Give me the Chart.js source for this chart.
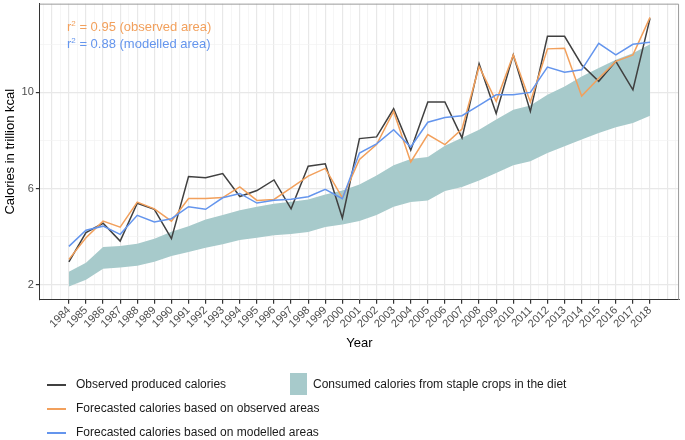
<!DOCTYPE html>
<html>
<head>
<meta charset="utf-8">
<script src="https://cdn.jsdelivr.net/npm/chart.js@4"></script>
<style>
  body { margin: 0; background: #fff; font-family: "Liberation Sans", Arial, sans-serif; }
  #wrap { position: relative; width: 685px; height: 440px; }
  .note { position: absolute; left: 67px; font-size: 13px; white-space: nowrap; line-height: 16px; }
  .note sup { font-size: 8px; vertical-align: 5px; line-height: 0; }
  .leg { position: absolute; font-size: 12px; color: #1a1a1a; white-space: nowrap; }
  .leg .ln { position: absolute; left: -29px; top: 7px; width: 19px; height: 1.5px; }
  .box { position: absolute; left: 290px; top: 373px; width: 17px; height: 22px; background: rgb(167,202,203); }
</style>
</head>
<body>
<div id="wrap">
  <canvas id="chart" width="685" height="440"></canvas>
  <div class="note" style="top:19px; color:#F2A05C;">r<sup>2</sup> = 0.95 (observed area)</div>
  <div class="note" style="top:36px; color:#6495ED;">r<sup>2</sup> = 0.88 (modelled area)</div>
  <div class="leg" style="left:76px; top:377px;"><span class="ln" style="background:#404040"></span>Observed produced calories</div>
  <div class="leg" style="left:76px; top:401px;"><span class="ln" style="background:#F2A05C"></span>Forecasted calories based on observed areas</div>
  <div class="leg" style="left:76px; top:425px;"><span class="ln" style="background:#6495ED"></span>Forecasted calories based on modelled areas</div>
  <div class="box"></div>
  <div class="leg" style="left:313px; top:377px;">Consumed calories from staple crops in the diet</div>
</div>
<script>
const years = [1984, 1985, 1986, 1987, 1988, 1989, 1990, 1991, 1992, 1993, 1994, 1995,
    1996, 1997, 1998, 1999, 2000, 2001, 2002, 2003, 2004, 2005, 2006, 2007, 2008, 2009,
    2010, 2011, 2012, 2013, 2014, 2015, 2016, 2017, 2018];

const observed = [2.96, 4.17, 4.56, 3.82, 5.39, 5.14, 3.92, 6.50, 6.45, 6.63, 5.67, 5.92,
    6.36, 5.16, 6.93, 7.03, 4.78, 8.08, 8.15, 9.32, 7.60, 9.60, 9.60, 8.11, 11.19, 9.12,
    11.56, 9.21, 12.33, 12.33, 11.15, 10.46, 11.29, 10.11, 13.08];

const forecastObserved = [3.06, 3.96, 4.65, 4.40, 5.44, 5.16, 4.65, 5.59, 5.59, 5.63, 6.07, 5.51,
    5.55, 6.03, 6.52, 6.84, 5.62, 7.21, 7.83, 9.21, 7.11, 8.25, 7.83, 8.48, 11.08, 9.63,
    11.56, 9.60, 11.81, 11.84, 9.85, 10.59, 11.29, 11.56, 13.12];

const forecastModelled = [3.60, 4.27, 4.44, 4.10, 4.89, 4.61, 4.75, 5.25, 5.14, 5.62, 5.80, 5.40,
    5.52, 5.56, 5.66, 5.97, 5.58, 7.48, 7.86, 8.45, 7.73, 8.76, 8.96, 9.03, 9.46, 9.90,
    9.90, 10.00, 11.05, 10.84, 10.94, 12.04, 11.56, 12.00, 12.09];

const consumedLow = [1.93, 2.21, 2.67, 2.72, 2.79, 2.96, 3.20, 3.37, 3.54, 3.69, 3.86, 3.96,
    4.06, 4.11, 4.20, 4.40, 4.51, 4.65, 4.90, 5.25, 5.44, 5.51, 5.90, 6.07, 6.34, 6.65,
    6.97, 7.14, 7.48, 7.76, 8.04, 8.31, 8.55, 8.73, 9.03];

const consumedHigh = [2.54, 2.92, 3.57, 3.62, 3.71, 3.92, 4.21, 4.44, 4.72, 4.90, 5.10, 5.25,
    5.37, 5.45, 5.55, 5.76, 5.92, 6.17, 6.55, 6.97, 7.23, 7.32, 7.78, 8.11, 8.45, 8.87,
    9.28, 9.46, 9.90, 10.25, 10.66, 11.01, 11.36, 11.63, 12.00];

const yBreaks = [2, 6, 10];
const yMinor = [4, 8, 12];

const toPoints = vals => vals.map((v, i) => ({x: years[i], y: v}));

// top and right panel border
const panelBorder = {
    id: 'panelBorder',
    afterDraw(chart) {
        const {ctx, chartArea: a} = chart;
        ctx.save();
        ctx.strokeStyle = '#9a9a9a';
        ctx.lineWidth = 1;
        ctx.beginPath();
        ctx.moveTo(a.left, a.top + 0.5);
        ctx.lineTo(a.right - 0.5, a.top + 0.5);
        ctx.lineTo(a.right - 0.5, a.bottom);
        ctx.stroke();
        ctx.restore();
    }
};

const lineStyle = color => ({
    borderColor: color,
    borderWidth: 1.5,
    pointRadius: 0,
    tension: 0,
    fill: false
});

const ctx = document.getElementById('chart').getContext('2d');
new Chart(ctx, {
    type: 'line',
    data: {
        datasets: [
            Object.assign({label: 'Forecasted calories based on modelled areas', data: toPoints(forecastModelled)}, lineStyle('#6495ED')),
            Object.assign({label: 'Forecasted calories based on observed areas', data: toPoints(forecastObserved)}, lineStyle('#F2A05C')),
            Object.assign({label: 'Observed produced calories', data: toPoints(observed)}, lineStyle('#404040')),
            {
                label: 'consumed low',
                data: toPoints(consumedLow),
                borderWidth: 0,
                pointRadius: 0,
                fill: false
            },
            {
                label: 'Consumed calories from staple crops in the diet',
                data: toPoints(consumedHigh),
                borderWidth: 0,
                pointRadius: 0,
                backgroundColor: 'rgb(167,202,203)',
                fill: '-1'
            }
        ]
    },
    plugins: [panelBorder],
    options: {
        responsive: false,
        animation: false,
        layout: {padding: {left: 0, top: 0, right: 3, bottom: 87}},
        plugins: {
            legend: {display: false},
            tooltip: {enabled: false}
        },
        scales: {
            x: {
                type: 'linear',
                min: 1982.3,
                max: 2019.7,
                afterBuildTicks: axis => {
                    const t = [];
                    for (let v = 1982.5; v <= 2019.5; v += 0.5) t.push({value: v});
                    axis.ticks = t;
                },
                ticks: {
                    autoSkip: false,
                    minRotation: 45,
                    maxRotation: 45,
                    padding: 0,
                    color: '#4d4d4d',
                    font: {family: 'Liberation Sans', size: 11},
                    callback: v => (v % 1 === 0 && v >= 1984 && v <= 2018) ? String(v) : ''
                },
                grid: {
                    color: c => (c.tick && c.tick.value % 1 === 0) ? '#e8e8e8' : '#f2f2f2',
                    lineWidth: c => (c.tick && c.tick.value % 1 === 0) ? 1.2 : 0.7,
                    tickColor: c => (c.tick && c.tick.value % 1 === 0 && c.tick.value >= 1984 && c.tick.value <= 2018) ? '#333' : 'rgba(0,0,0,0)',
                    tickLength: 4
                },
                border: {display: true, color: '#333', width: 1},
                title: {
                    display: true,
                    text: 'Year',
                    color: '#000',
                    font: {family: 'Liberation Sans', size: 13},
                    padding: {top: 5, bottom: 2}
                }
            },
            y: {
                min: 1.38,
                max: 13.69,
                afterBuildTicks: axis => {
                    axis.ticks = yBreaks.concat(yMinor).sort((a, b) => a - b).map(v => ({value: v}));
                },
                ticks: {
                    padding: 2,
                    color: '#4d4d4d',
                    font: {family: 'Liberation Sans', size: 11, lineHeight: 0.3},
                    callback: v => yBreaks.includes(v) ? String(v) : ''
                },
                grid: {
                    color: c => (c.tick && yBreaks.includes(c.tick.value)) ? '#e8e8e8' : '#f2f2f2',
                    lineWidth: c => (c.tick && yBreaks.includes(c.tick.value)) ? 1.2 : 0.7,
                    tickColor: c => (c.tick && yBreaks.includes(c.tick.value)) ? '#333' : 'rgba(0,0,0,0)',
                    tickLength: 4
                },
                border: {display: true, color: '#333', width: 1},
                title: {
                    display: true,
                    text: 'Calories in trillion kcal',
                    color: '#000',
                    font: {family: 'Liberation Sans', size: 13},
                    padding: {top: 3, bottom: 1}
                }
            }
        }
    }
});
</script>
</body>
</html>
